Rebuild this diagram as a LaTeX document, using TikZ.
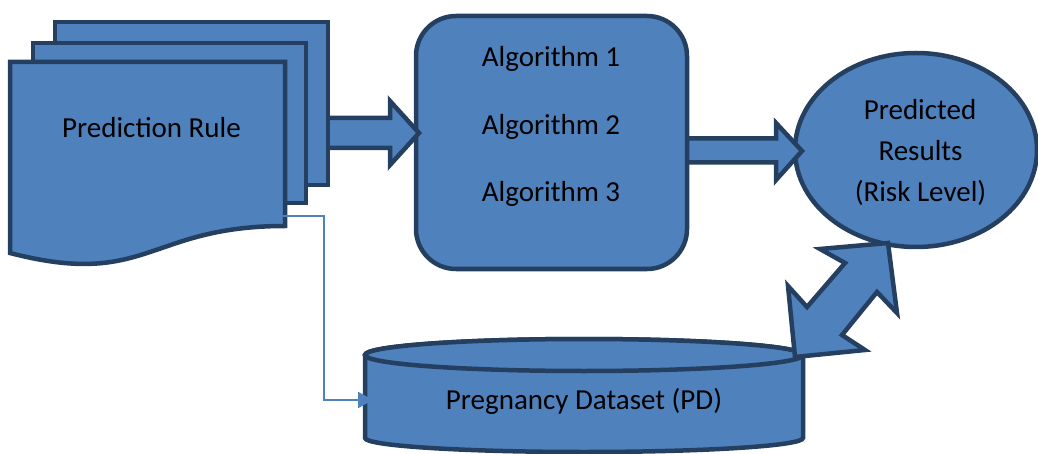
\documentclass[tikz,border=0pt]{standalone}
\usepackage{fontspec}
\setmainfont{Carlito}
\usetikzlibrary{shapes.geometric,arrows.meta}
\definecolor{fillblue}{HTML}{4F81BD}
\definecolor{edgeblue}{HTML}{243F60}
\tikzset{
  shp/.style={draw=edgeblue,fill=fillblue,line width=4.5pt,line join=miter},
  lbl/.style={font=\fontsize{29}{34}\selectfont,text=black,anchor=base,inner sep=0pt},
  conn/.style={draw=fillblue,line width=2pt,-{Triangle[length=15pt,width=16pt]}}
}
\begin{document}
\begin{tikzpicture}[x=1pt,y=-1pt]
\useasboundingbox (0,0) rectangle (1038,454);

% ellipse: predicted results
\node[shp,ellipse,minimum width=242pt,minimum height=194pt,inner sep=0pt] (res) at (916,150) {};

% arrow algorithms -> results
\draw[shp] (681,138.5) -- (776,138.5) -- (776,123) -- (802,151) -- (776,180) -- (776,162.5) -- (681,162.5) -- cycle;

% algorithms box
\node[shp,rectangle,rounded corners=40pt,minimum width=271pt,minimum height=253pt,inner sep=0pt] (algo) at (551.5,142.5) {};

% arrow rule -> algorithms
\draw[shp] (326,118) -- (390,118) -- (390,101) -- (419,133) -- (390,165) -- (390,148) -- (326,148) -- cycle;

% multi-document
\draw[shp] (55,22) rectangle (328,185);
\draw[shp] (33,43) rectangle (306,203);
\draw[shp] (10,62) -- (285,62) -- (285,226) .. controls (147.5,226) and (147.5,288.6) .. (10,253) -- cycle;

% cylinder
\draw[shp] (365,355) -- (365,438) arc[start angle=180,end angle=360,x radius=219pt,y radius=14pt] -- (803,355) arc[start angle=0,end angle=180,x radius=219pt,y radius=16pt] -- cycle;
\draw[shp] (584,355) ellipse[x radius=219pt,y radius=16pt];

% texts
\node[lbl] (t0) at (151.5,138) {Prediction Rule};
\node[lbl] (t1) at (551,67) {Algorithm 1};
\node[lbl] (t2) at (551,135) {Algorithm 2};
\node[lbl] (t3) at (551,202) {Algorithm 3};
\node[lbl] (t4) at (920,120) {Predicted};
\node[lbl] (t5) at (920.5,161) {Results};
\node[lbl] (t6) at (920.5,202) {(Risk Level)};
\node[lbl] (t7) at (584,409) {Pregnancy Dataset (PD)};

% connector rule -> dataset
\coordinate (c1) at (275,216);
\coordinate (c2) at (373,400);
\draw[conn] (c1) -- ++(49,0) |- (c2);

% double arrow dataset <-> results
\draw[shp] (888,243) -- (820,249) -- (845,263) -- (807,307) -- (788,286) -- (795,357) -- (865,350) -- (842,335) -- (877,292) -- (897,313) -- cycle;
\end{tikzpicture}
\end{document}
